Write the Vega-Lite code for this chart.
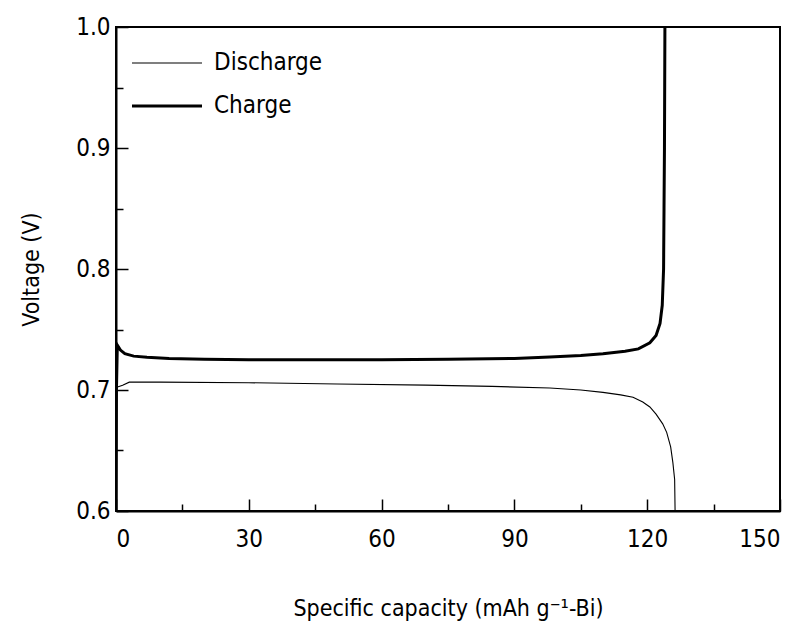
{
  "$schema": "https://vega.github.io/schema/vega-lite/v6.json",
  "width": 664,
  "height": 484,
  "autosize": {"type": "none"},
  "padding": {"left": 116, "top": 27, "right": 29, "bottom": 119},
  "background": "white",
  "config": {
    "view": {"stroke": "black", "strokeWidth": 2},
    "font": "DejaVu Sans Condensed",
    "axis": {
      "grid": false,
      "domainColor": "black",
      "domainWidth": 2,
      "tickColor": "black",
      "tickWidth": 1.5,
      "labelColor": "black",
      "titleColor": "black",
      "labelFont": "DejaVu Sans Condensed",
      "titleFont": "DejaVu Sans Condensed",
      "labelFontSize": 24,
      "titleFontSize": 23,
      "titleFontWeight": "normal"
    }
  },
  "data": {
    "values": [
      {"series": "Charge", "x": 0, "v": 0.6},
      {"series": "Charge", "x": 0.1, "v": 0.7},
      {"series": "Charge", "x": 0.3, "v": 0.737},
      {"series": "Charge", "x": 1, "v": 0.733},
      {"series": "Charge", "x": 2, "v": 0.73},
      {"series": "Charge", "x": 4, "v": 0.728},
      {"series": "Charge", "x": 7, "v": 0.727},
      {"series": "Charge", "x": 12, "v": 0.726},
      {"series": "Charge", "x": 20, "v": 0.7255},
      {"series": "Charge", "x": 30, "v": 0.725},
      {"series": "Charge", "x": 45, "v": 0.725},
      {"series": "Charge", "x": 60, "v": 0.725},
      {"series": "Charge", "x": 75, "v": 0.7255},
      {"series": "Charge", "x": 90, "v": 0.726},
      {"series": "Charge", "x": 98, "v": 0.7272},
      {"series": "Charge", "x": 105, "v": 0.7285},
      {"series": "Charge", "x": 110, "v": 0.73},
      {"series": "Charge", "x": 115, "v": 0.732},
      {"series": "Charge", "x": 118, "v": 0.734},
      {"series": "Charge", "x": 120.6, "v": 0.739},
      {"series": "Charge", "x": 122, "v": 0.745},
      {"series": "Charge", "x": 122.9, "v": 0.755},
      {"series": "Charge", "x": 123.4, "v": 0.77},
      {"series": "Charge", "x": 123.7, "v": 0.8},
      {"series": "Charge", "x": 123.8, "v": 0.85},
      {"series": "Charge", "x": 123.9, "v": 0.9},
      {"series": "Charge", "x": 124, "v": 1.0},
      {"series": "Discharge", "x": 0, "v": 0.702},
      {"series": "Discharge", "x": 1.5, "v": 0.704},
      {"series": "Discharge", "x": 3, "v": 0.7065},
      {"series": "Discharge", "x": 10, "v": 0.7065},
      {"series": "Discharge", "x": 30, "v": 0.706},
      {"series": "Discharge", "x": 50, "v": 0.705},
      {"series": "Discharge", "x": 70, "v": 0.704},
      {"series": "Discharge", "x": 85, "v": 0.703},
      {"series": "Discharge", "x": 98, "v": 0.7016},
      {"series": "Discharge", "x": 105, "v": 0.7},
      {"series": "Discharge", "x": 110, "v": 0.698},
      {"series": "Discharge", "x": 114, "v": 0.696},
      {"series": "Discharge", "x": 116.8, "v": 0.694},
      {"series": "Discharge", "x": 119, "v": 0.69},
      {"series": "Discharge", "x": 120.6, "v": 0.686},
      {"series": "Discharge", "x": 122, "v": 0.68},
      {"series": "Discharge", "x": 123.5, "v": 0.672},
      {"series": "Discharge", "x": 124.4, "v": 0.665},
      {"series": "Discharge", "x": 125.3, "v": 0.653},
      {"series": "Discharge", "x": 125.8, "v": 0.64},
      {"series": "Discharge", "x": 126.2, "v": 0.626},
      {"series": "Discharge", "x": 126.3, "v": 0.6}
    ]
  },
  "mark": {"type": "line", "color": "black", "clip": true},
  "encoding": {
    "x": {
      "field": "x",
      "type": "quantitative",
      "scale": {"domain": [0, 150], "nice": false},
      "axis": {
        "title": "Specific capacity (mAh g⁻¹-Bi)",
        "values": [0, 15, 30, 45, 60, 75, 90, 105, 120, 135, 150],
        "labelExpr": "datum.value % 30 === 0 ? datum.label : ''",
        "tickSize": {"condition": {"test": "datum.value % 30 === 0", "value": -12}, "value": -7},
        "labelPadding": 28,
        "titlePadding": 46
      }
    },
    "y": {
      "field": "v",
      "type": "quantitative",
      "scale": {"domain": [0.6, 1.0], "nice": false, "zero": false},
      "axis": {
        "title": "Voltage (V)",
        "values": [0.6, 0.65, 0.7, 0.75, 0.8, 0.85, 0.9, 0.95, 1.0],
        "format": ".1f",
        "labelExpr": "abs(datum.value * 10 - round(datum.value * 10)) < 0.001 ? datum.label : ''",
        "tickSize": {"condition": {"test": "abs(datum.value * 10 - round(datum.value * 10)) < 0.001", "value": -12}, "value": -7},
        "labelPadding": 18,
        "titlePadding": 32
      }
    },
    "detail": {"field": "series", "type": "nominal"},
    "strokeWidth": {
      "field": "series",
      "type": "ordinal",
      "scale": {"domain": ["Discharge", "Charge"], "range": [1.1, 3]},
      "legend": {
        "title": null,
        "orient": "none",
        "legendX": 39,
        "legendY": 24,
        "symbolType": "M-3.5,0H3.5",
        "symbolSize": 400,
        "symbolStrokeColor": "black",
        "labelOffset": 35,
        "labelFontSize": 24,
        "labelFont": "DejaVu Sans Condensed",
        "labelColor": "black",
        "rowPadding": 19
      }
    }
  }
}
